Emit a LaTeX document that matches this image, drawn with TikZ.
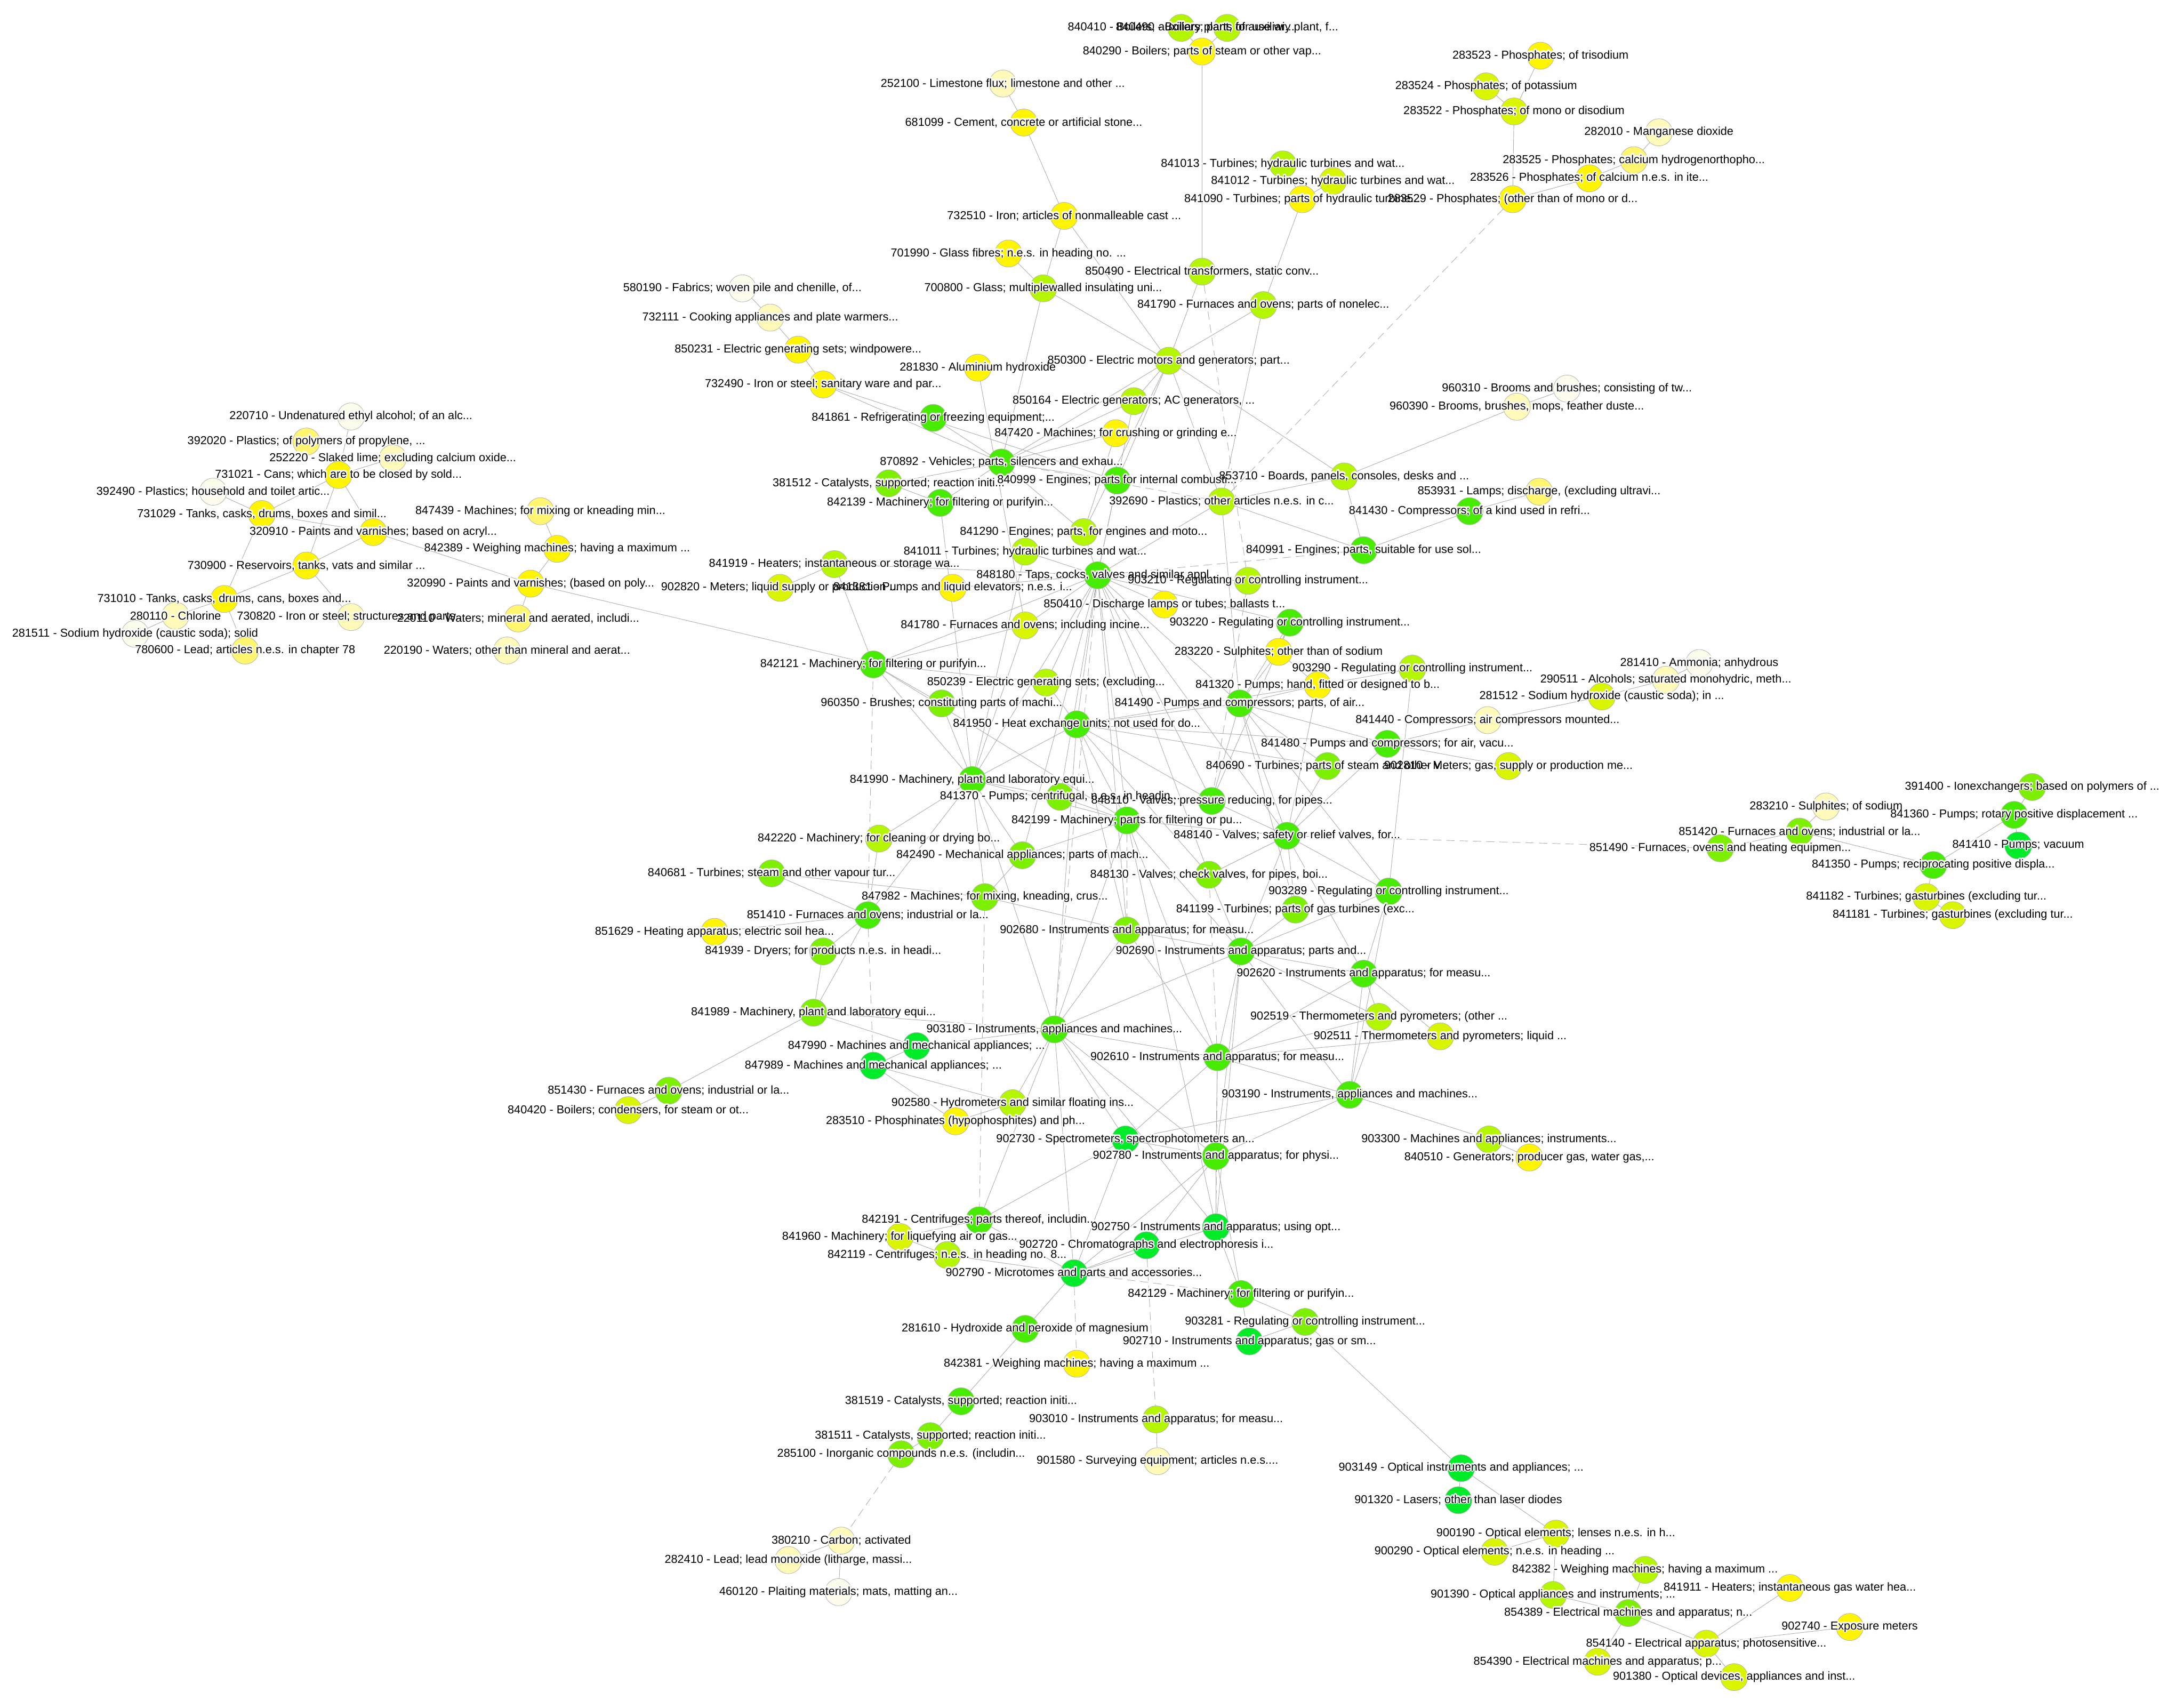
\documentclass[tikz,border=0pt]{standalone}
\usepackage{fontspec}
\setmainfont{Liberation Sans}
\usepackage{contour}
\contourlength{0.8pt}
\contournumber{16}
\definecolor{cGa}{RGB}{0,235,40}
\definecolor{cGb}{RGB}{70,235,0}
\definecolor{cGc}{RGB}{125,240,0}
\definecolor{cGd}{RGB}{180,245,0}
\definecolor{cGe}{RGB}{218,245,0}
\definecolor{cYa}{RGB}{255,245,0}
\definecolor{cYb}{RGB}{255,245,110}
\definecolor{cYc}{RGB}{255,250,185}
\definecolor{cWa}{RGB}{252,252,236}
\pgfdeclarelayer{back}
\pgfdeclarelayer{bg}
\pgfdeclarelayer{halo}
\pgfdeclarelayer{fg}
\pgfsetlayers{back,bg,main,halo,fg}
\tikzset{
  hsdot/.style={circle, draw=black!30, line width=0.3pt, minimum size=19.5pt, inner sep=0pt},
  hslbl/.style={inner sep=0pt, font=\fontsize{8.3}{9}\selectfont, text=black},
  hsedge/.style={draw=black!32, line width=0.35pt},
  hsdash/.style={dash pattern=on 6pt off 3.5pt}
}
\newcommand\hsn[5]{%
  \node[hsdot,fill=#4] (n#1) at (#2,#3) {};%
  \begin{pgfonlayer}{halo}\node[hslbl,text=white] (h#1) at (#2,#3) {\contour{white}{#1 - #5}};\end{pgfonlayer}%
  \begin{pgfonlayer}{fg}\node[hslbl] (l#1) at (#2,#3) {#1 - #5};\end{pgfonlayer}}
\newcommand\hse[2]{\draw[hsedge] (n#1) -- (n#2);}
\newcommand\hsd[2]{\draw[hsedge,hsdash] (n#1) -- (n#2);}
\begin{document}
\begin{tikzpicture}[x=1pt,y=-1pt]
\useasboundingbox (0,0) rectangle (1568,1221);
\begin{pgfonlayer}{back}\fill[white] (0,0) rectangle (1568,1221);\end{pgfonlayer}
% ---------- nodes ----------
\hsn{840410}{848}{20}{cGd}{Boilers; auxiliary plant, for use wi...}
\hsn{840490}{881}{20}{cGd}{Boilers; parts of auxiliary plant, f...}
\hsn{840290}{863}{37}{cYa}{Boilers; parts of steam or other vap...}
\hsn{252100}{720}{60}{cYc}{Limestone flux; limestone and other ...}
\hsn{681099}{735}{88}{cYa}{Cement, concrete or artificial stone...}
\hsn{283523}{1106}{40}{cYa}{Phosphates; of trisodium}
\hsn{283524}{1067}{62}{cGe}{Phosphates; of potassium}
\hsn{283522}{1087}{80}{cGe}{Phosphates; of mono or disodium}
\hsn{282010}{1191}{95}{cYc}{Manganese dioxide}
\hsn{283525}{1173}{115}{cYb}{Phosphates; calcium hydrogenorthopho...}
\hsn{283526}{1141}{128}{cYa}{Phosphates; of calcium n.e.s. in ite...}
\hsn{283529}{1086}{143}{cYa}{Phosphates; (other than of mono or d...}
\hsn{841013}{921}{118}{cGd}{Turbines; hydraulic turbines and wat...}
\hsn{841012}{957}{130}{cGe}{Turbines; hydraulic turbines and wat...}
\hsn{841090}{935}{143}{cYa}{Turbines; parts of hydraulic turbine...}
\hsn{732510}{764}{155}{cYa}{Iron; articles of nonmalleable cast ...}
\hsn{701990}{724}{182}{cYa}{Glass fibres; n.e.s. in heading no. ...}
\hsn{580190}{533}{207}{cWa}{Fabrics; woven pile and chenille, of...}
\hsn{700800}{749}{207}{cGd}{Glass; multiplewalled insulating uni...}
\hsn{850490}{863}{195}{cGd}{Electrical transformers, static conv...}
\hsn{841790}{907}{219}{cGd}{Furnaces and ovens; parts of nonelec...}
\hsn{732111}{553}{228}{cYc}{Cooking appliances and plate warmers...}
\hsn{850231}{573}{251}{cYa}{Electric generating sets; windpowere...}
\hsn{281830}{702}{264}{cYa}{Aluminium hydroxide}
\hsn{850300}{839}{259}{cGd}{Electric motors and generators; part...}
\hsn{732490}{591}{276}{cYa}{Iron or steel; sanitary ware and par...}
\hsn{960310}{1125}{279}{cWa}{Brooms and brushes; consisting of tw...}
\hsn{960390}{1089}{292}{cYc}{Brooms, brushes, mops, feather duste...}
\hsn{850164}{814}{288}{cGd}{Electric generators; AC generators, ...}
\hsn{841861}{670}{300}{cGb}{Refrigerating or freezing equipment;...}
\hsn{847420}{801}{311}{cYa}{Machines; for crushing or grinding e...}
\hsn{220710}{252}{299}{cWa}{Undenatured ethyl alcohol; of an alc...}
\hsn{392020}{220}{317}{cYb}{Plastics; of polymers of propylene, ...}
\hsn{252220}{282}{329}{cYc}{Slaked lime; excluding calcium oxide...}
\hsn{731021}{243}{341}{cYa}{Cans; which are to be closed by sold...}
\hsn{392490}{153}{353}{cWa}{Plastics; household and toilet artic...}
\hsn{870892}{719}{332}{cGb}{Vehicles; parts, silencers and exhau...}
\hsn{381512}{638}{347}{cGc}{Catalysts, supported; reaction initi...}
\hsn{840999}{802}{345}{cGb}{Engines; parts for internal combusti...}
\hsn{853710}{965}{342}{cGd}{Boards, panels, consoles, desks and ...}
\hsn{842139}{675}{361}{cGb}{Machinery; for filtering or purifyin...}
\hsn{392690}{877}{360}{cGd}{Plastics; other articles n.e.s. in c...}
\hsn{853931}{1105}{353}{cYb}{Lamps; discharge, (excluding ultravi...}
\hsn{731029}{188}{369}{cYa}{Tanks, casks, drums, boxes and simil...}
\hsn{847439}{388}{367}{cYb}{Machines; for mixing or kneading min...}
\hsn{320910}{268}{382}{cYa}{Paints and varnishes; based on acryl...}
\hsn{841290}{778}{382}{cGd}{Engines; parts, for engines and moto...}
\hsn{841430}{1055}{367}{cGb}{Compressors; of a kind used in refri...}
\hsn{842389}{400}{394}{cYa}{Weighing machines; having a maximum ...}
\hsn{841011}{736}{396}{cGd}{Turbines; hydraulic turbines and wat...}
\hsn{840991}{979}{395}{cGb}{Engines; parts, suitable for use sol...}
\hsn{730900}{220}{406}{cYa}{Reservoirs, tanks, vats and similar ...}
\hsn{841919}{599}{405}{cGd}{Heaters; instantaneous or storage wa...}
\hsn{848180}{788}{413}{cGb}{Taps, cocks, valves and similar appl...}
\hsn{903210}{896}{417}{cGd}{Regulating or controlling instrument...}
\hsn{902820}{560}{422}{cGe}{Meters; liquid supply or production ...}
\hsn{841381}{684}{422}{cYa}{Pumps and liquid elevators; n.e.s. i...}
\hsn{320990}{381}{419}{cYa}{Paints and varnishes; (based on poly...}
\hsn{731010}{161}{430}{cYa}{Tanks, casks, drums, cans, boxes and...}
\hsn{280110}{126}{442}{cYc}{Chlorine}
\hsn{730820}{252}{443}{cYc}{Iron or steel; structures and parts...}
\hsn{220110}{372}{444}{cYb}{Waters; mineral and aerated, includi...}
\hsn{281511}{97}{455}{cWa}{Sodium hydroxide (caustic soda); solid}
\hsn{780600}{176}{467}{cYb}{Lead; articles n.e.s. in chapter 78}
\hsn{220190}{364}{467}{cYc}{Waters; other than mineral and aerat...}
\hsn{850410}{836}{434}{cYa}{Discharge lamps or tubes; ballasts t...}
\hsn{903220}{926}{447}{cGb}{Regulating or controlling instrument...}
\hsn{841780}{736}{449}{cGe}{Furnaces and ovens; including incine...}
\hsn{283220}{918}{468}{cYa}{Sulphites; other than of sodium}
\hsn{281410}{1220}{476}{cWa}{Ammonia; anhydrous}
\hsn{290511}{1196}{488}{cYc}{Alcohols; saturated monohydric, meth...}
\hsn{903290}{1014}{480}{cGd}{Regulating or controlling instrument...}
\hsn{842121}{627}{477}{cGb}{Machinery; for filtering or purifyin...}
\hsn{841320}{946}{492}{cYa}{Pumps; hand, fitted or designed to b...}
\hsn{281512}{1150}{500}{cGe}{Sodium hydroxide (caustic soda); in ...}
\hsn{850239}{751}{490}{cGd}{Electric generating sets; (excluding...}
\hsn{841490}{890}{505}{cGb}{Pumps and compressors; parts, of air...}
\hsn{960350}{676}{505}{cGc}{Brushes; constituting parts of machi...}
\hsn{841440}{1068}{517}{cYc}{Compressors; air compressors mounted...}
\hsn{841950}{773}{520}{cGb}{Heat exchange units; not used for do...}
\hsn{841480}{996}{534}{cGb}{Pumps and compressors; for air, vacu...}
\hsn{840690}{953}{550}{cGc}{Turbines; parts of steam and other v...}
\hsn{902810}{1083}{550}{cGe}{Meters; gas, supply or production me...}
\hsn{841990}{698}{560}{cGb}{Machinery, plant and laboratory equi...}
\hsn{841370}{761}{572}{cGc}{Pumps; centrifugal, n.e.s. in headin...}
\hsn{848110}{870}{575}{cGb}{Valves; pressure reducing, for pipes...}
\hsn{842199}{809}{589}{cGb}{Machinery; parts for filtering or pu...}
\hsn{391400}{1459}{565}{cGc}{Ionexchangers; based on polymers of ...}
\hsn{283210}{1311}{579}{cYc}{Sulphites; of sodium}
\hsn{841360}{1446}{585}{cGb}{Pumps; rotary positive displacement ...}
\hsn{851420}{1292}{597}{cGc}{Furnaces and ovens; industrial or la...}
\hsn{841410}{1449}{607}{cGa}{Pumps; vacuum}
\hsn{851490}{1235}{609}{cGc}{Furnaces, ovens and heating equipmen...}
\hsn{841350}{1388}{621}{cGb}{Pumps; reciprocating positive displa...}
\hsn{842220}{631}{602}{cGd}{Machinery; for cleaning or drying bo...}
\hsn{842490}{734}{614}{cGc}{Mechanical appliances; parts of mach...}
\hsn{840681}{554}{627}{cGc}{Turbines; steam and other vapour tur...}
\hsn{848130}{868}{628}{cGc}{Valves; check valves, for pipes, boi...}
\hsn{848140}{924}{600}{cGb}{Valves; safety or relief valves, for...}
\hsn{903289}{997}{640}{cGb}{Regulating or controlling instrument...}
\hsn{841182}{1383}{644}{cGe}{Turbines; gasturbines (excluding tur...}
\hsn{841181}{1402}{657}{cGe}{Turbines; gasturbines (excluding tur...}
\hsn{847982}{707}{644}{cGc}{Machines; for mixing, kneading, crus...}
\hsn{841199}{930}{653}{cGc}{Turbines; parts of gas turbines (exc...}
\hsn{851410}{623}{657}{cGb}{Furnaces and ovens; industrial or la...}
\hsn{851629}{513}{669}{cYa}{Heating apparatus; electric soil hea...}
\hsn{902680}{809}{668}{cGc}{Instruments and apparatus; for measu...}
\hsn{841939}{591}{683}{cGc}{Dryers; for products n.e.s. in headi...}
\hsn{902690}{891}{683}{cGb}{Instruments and apparatus; parts and...}
\hsn{902620}{979}{699}{cGb}{Instruments and apparatus; for measu...}
\hsn{841989}{584}{727}{cGc}{Machinery, plant and laboratory equi...}
\hsn{902519}{990}{730}{cGd}{Thermometers and pyrometers; (other ...}
\hsn{902511}{1034}{744}{cGe}{Thermometers and pyrometers; liquid ...}
\hsn{903180}{757}{739}{cGb}{Instruments, appliances and machines...}
\hsn{847990}{658}{751}{cGa}{Machines and mechanical appliances; ...}
\hsn{847989}{627}{765}{cGa}{Machines and mechanical appliances; ...}
\hsn{902610}{874}{759}{cGb}{Instruments and apparatus; for measu...}
\hsn{851430}{480}{783}{cGc}{Furnaces and ovens; industrial or la...}
\hsn{840420}{451}{797}{cGe}{Boilers; condensers, for steam or ot...}
\hsn{903190}{969}{786}{cGb}{Instruments, appliances and machines...}
\hsn{902580}{727}{792}{cGd}{Hydrometers and similar floating ins...}
\hsn{283510}{686}{805}{cYa}{Phosphinates (hypophosphites) and ph...}
\hsn{903300}{1069}{818}{cGd}{Machines and appliances; instruments...}
\hsn{902730}{808}{818}{cGa}{Spectrometers, spectrophotometers an...}
\hsn{840510}{1098}{831}{cYa}{Generators; producer gas, water gas,...}
\hsn{902780}{873}{830}{cGb}{Instruments and apparatus; for physi...}
\hsn{842191}{703}{876}{cGb}{Centrifuges; parts thereof, includin...}
\hsn{902750}{873}{881}{cGa}{Instruments and apparatus; using opt...}
\hsn{841960}{646}{888}{cGe}{Machinery; for liquefying air or gas...}
\hsn{902720}{823}{894}{cGa}{Chromatographs and electrophoresis i...}
\hsn{842119}{680}{901}{cGd}{Centrifuges; n.e.s. in heading no. 8...}
\hsn{902790}{771}{914}{cGa}{Microtomes and parts and accessories...}
\hsn{842129}{891}{929}{cGb}{Machinery; for filtering or purifyin...}
\hsn{903281}{937}{949}{cGc}{Regulating or controlling instrument...}
\hsn{281610}{736}{954}{cGb}{Hydroxide and peroxide of magnesium}
\hsn{902710}{897}{963}{cGa}{Instruments and apparatus; gas or sm...}
\hsn{842381}{773}{979}{cYa}{Weighing machines; having a maximum ...}
\hsn{381519}{690}{1006}{cGb}{Catalysts, supported; reaction initi...}
\hsn{903010}{830}{1019}{cGd}{Instruments and apparatus; for measu...}
\hsn{381511}{668}{1031}{cGc}{Catalysts, supported; reaction initi...}
\hsn{285100}{647}{1044}{cGc}{Inorganic compounds n.e.s. (includin...}
\hsn{901580}{831}{1049}{cYc}{Surveying equipment; articles n.e.s....}
\hsn{903149}{1049}{1054}{cGa}{Optical instruments and appliances; ...}
\hsn{901320}{1047}{1077}{cGa}{Lasers; other than laser diodes}
\hsn{900190}{1117}{1101}{cGe}{Optical elements; lenses n.e.s. in h...}
\hsn{380210}{604}{1106}{cYc}{Carbon; activated}
\hsn{900290}{1073}{1114}{cGe}{Optical elements; n.e.s. in heading ...}
\hsn{282410}{566}{1120}{cYc}{Lead; lead monoxide (litharge, massi...}
\hsn{842382}{1181}{1127}{cGd}{Weighing machines; having a maximum ...}
\hsn{841911}{1285}{1140}{cYa}{Heaters; instantaneous gas water hea...}
\hsn{460120}{602}{1143}{cWa}{Plaiting materials; mats, matting an...}
\hsn{901390}{1115}{1145}{cGd}{Optical appliances and instruments; ...}
\hsn{854389}{1169}{1158}{cGc}{Electrical machines and apparatus; n...}
\hsn{902740}{1328}{1168}{cYa}{Exposure meters}
\hsn{854140}{1225}{1180}{cGe}{Electrical apparatus; photosensitive...}
\hsn{854390}{1147}{1193}{cGe}{Electrical machines and apparatus; p...}
\hsn{901380}{1245}{1204}{cGe}{Optical devices, appliances and inst...}
% ---------- edges ----------
\begin{pgfonlayer}{bg}
% left periphery
\hse{220710}{731021}\hse{252220}{731021}\hse{731021}{731029}\hse{392490}{731029}
\hse{731021}{730900}\hse{731021}{320910}\hse{731029}{320910}\hse{320910}{730900}
\hse{320910}{320990}\hse{731029}{731010}\hse{730900}{731010}\hse{730900}{730820}
\hse{731010}{280110}\hse{280110}{281511}\hse{731010}{780600}\hse{847439}{842389}
\hse{842389}{320990}\hse{320990}{220110}\hse{320990}{842121}
% top
\hse{840410}{840290}\hse{840490}{840290}\hse{840290}{850490}\hse{252100}{681099}
\hse{681099}{732510}\hse{732510}{700800}\hse{732510}{850300}\hse{701990}{700800}
\hse{700800}{850300}\hse{700800}{870892}\hse{841013}{841090}\hse{841012}{841090}
\hse{841090}{841790}\hse{841790}{850300}\hse{850490}{850300}\hsd{850490}{903210}
\hse{841790}{392690}\hse{850300}{853710}\hse{850300}{850164}\hse{850300}{870892}
\hse{850300}{840999}\hse{850300}{392690}\hse{850300}{841290}\hse{281830}{841780}
\hse{732490}{870892}\hse{732490}{840999}\hse{850231}{732490}\hse{732111}{850231}
\hse{580190}{732111}\hse{841861}{870892}\hse{847420}{870892}\hse{870892}{850164}
\hse{870892}{840999}\hsd{870892}{392690}\hse{870892}{842139}\hse{870892}{381512}
\hse{870892}{841290}\hse{853710}{392690}\hse{853710}{840991}\hse{853710}{960390}
\hse{960390}{960310}\hse{853931}{841430}\hse{840991}{841430}\hsd{283529}{392690}
\hse{283529}{283526}\hse{283526}{283525}\hse{283525}{282010}\hse{283522}{283523}
\hse{283524}{283522}\hse{283522}{283529}\hse{850164}{848180}\hse{840999}{848180}
\hse{392690}{848180}\hse{392690}{840991}\hse{392690}{841490}\hse{841290}{848180}
\hse{841011}{848180}\hse{842139}{841990}\hse{381512}{842139}\hse{841011}{841990}
\hse{841780}{848180}\hse{847420}{841290}
% right
\hse{281410}{290511}\hse{290511}{281512}\hse{281512}{841440}\hse{841440}{841480}
\hse{841480}{902810}\hsd{848140}{851490}\hse{851490}{851420}\hse{851420}{283210}
\hse{851420}{841350}\hse{841350}{841360}\hse{841360}{391400}\hse{841360}{841410}
\hse{841350}{841182}\hse{841182}{841181}
% bottom
\hse{902790}{281610}\hse{281610}{381519}\hse{381519}{381511}\hse{381511}{285100}
\hsd{285100}{380210}\hse{380210}{282410}\hse{380210}{460120}\hsd{902790}{842381}
\hse{842191}{902790}\hse{841960}{842191}\hse{842119}{902790}\hse{842119}{841960}
\hse{902790}{902720}\hse{902790}{902750}\hsd{902790}{842129}\hse{902790}{902780}
\hse{902790}{902730}\hsd{902720}{903010}\hse{903010}{901580}\hse{842129}{902750}
\hse{842129}{903281}\hse{903281}{902710}\hse{902710}{842129}\hse{903281}{903149}
\hse{903149}{901320}\hse{903149}{900190}\hse{900190}{900290}\hse{900190}{901390}
\hse{901390}{854389}\hse{854389}{842382}\hse{854389}{854140}\hse{854389}{854390}
\hse{854140}{841911}\hse{854140}{902740}\hse{854140}{901380}\hse{903300}{840510}
\hse{903300}{903190}
% left middle
\hse{851430}{841989}\hse{851430}{840420}\hse{841989}{847990}\hse{841989}{851410}
\hse{841989}{841939}\hse{841989}{903180}\hse{851629}{851410}\hse{840681}{847982}
\hse{841939}{851410}\hse{847990}{847989}\hse{847990}{903180}\hse{847989}{902580}
\hse{283510}{902580}\hse{283510}{847989}\hse{902580}{903180}\hse{847982}{902680}
\hse{842490}{841990}\hse{842490}{847982}\hse{842490}{848180}\hse{842220}{841990}
\hse{842220}{851410}\hsd{851410}{842121}\hsd{851410}{847989}\hsd{847982}{842191}
\hse{840681}{851410}
% centre hubs
\hse{848180}{841370}\hse{848180}{842199}\hse{848180}{841950}\hse{848180}{841990}
\hse{848180}{850239}\hse{848180}{848110}\hse{848180}{848140}\hse{848180}{848130}
\hse{848180}{903210}\hse{848180}{850410}\hse{848180}{842121}\hse{848180}{902680}
\hse{848180}{903220}\hse{848180}{841490}\hse{848180}{841919}\hse{848180}{841381}
\hsd{848180}{840991}\hsd{848180}{903180}\hse{902820}{841919}
\hse{841990}{842121}\hse{841990}{960350}\hse{841990}{841950}\hse{841990}{841370}
\hse{841990}{842199}\hse{841990}{841780}\hse{841990}{903180}\hse{841990}{851410}
\hse{841990}{847982}
\hse{841950}{841490}\hse{841950}{842199}\hse{841950}{850239}\hse{841950}{848110}
\hse{841950}{902680}\hse{841950}{903180}\hse{841950}{848130}\hse{841950}{841480}
\hse{841950}{840690}\hse{841950}{841320}
\hse{841490}{841320}\hse{841490}{841480}\hse{841490}{840690}\hse{841490}{848140}
\hse{841490}{848110}\hse{841490}{903220}\hse{841490}{841199}\hse{841490}{903289}
\hse{841490}{283220}
\hse{842199}{842121}\hse{842199}{903180}\hsd{842199}{902680}\hse{842199}{902690}
\hse{842199}{902610}\hse{842199}{848140}\hse{842199}{842490}\hse{842199}{841370}
\hse{842199}{902750}
\hse{848140}{840690}\hse{848140}{841480}\hse{848140}{848110}\hse{848140}{848130}
\hse{848140}{903289}\hse{848140}{841199}\hse{848140}{902690}\hse{848140}{902620}
\hse{848140}{841320}
\hse{902690}{902680}\hse{902690}{902620}\hse{902690}{903289}\hse{902690}{841199}
\hse{902690}{903180}\hse{902690}{902610}\hse{902690}{902780}\hse{902690}{902750}
\hse{902690}{902519}\hse{902690}{903190}\hse{902690}{848130}
\hse{903180}{902610}\hse{903180}{902780}\hse{903180}{902730}\hse{903180}{902750}
\hse{903180}{902790}\hse{903180}{902680}
\hse{902610}{902620}\hse{902610}{903190}\hse{902610}{902780}\hsd{902610}{902750}
\hse{902610}{902730}\hse{902610}{902680}\hse{902610}{902519}\hse{902610}{902511}
\hsd{902610}{848130}
\hse{902780}{902750}\hse{902780}{902730}\hse{902780}{902720}\hse{902780}{903190}
\hse{902780}{842129}
\hse{903190}{902730}\hse{903190}{902620}\hse{903190}{903289}\hse{903190}{902519}
\hse{902620}{902519}\hse{902620}{902511}\hse{902620}{903289}
\hse{842121}{960350}\hse{842121}{841780}\hse{842121}{841919}
\hse{841320}{283220}\hse{841320}{903290}\hse{903220}{283220}\hse{903220}{848110}
\hse{903290}{903289}\hsd{903210}{848110}\hse{850239}{842121}
\hse{842191}{903180}\hse{842191}{902730}
\end{pgfonlayer}
\end{tikzpicture}
\end{document}
